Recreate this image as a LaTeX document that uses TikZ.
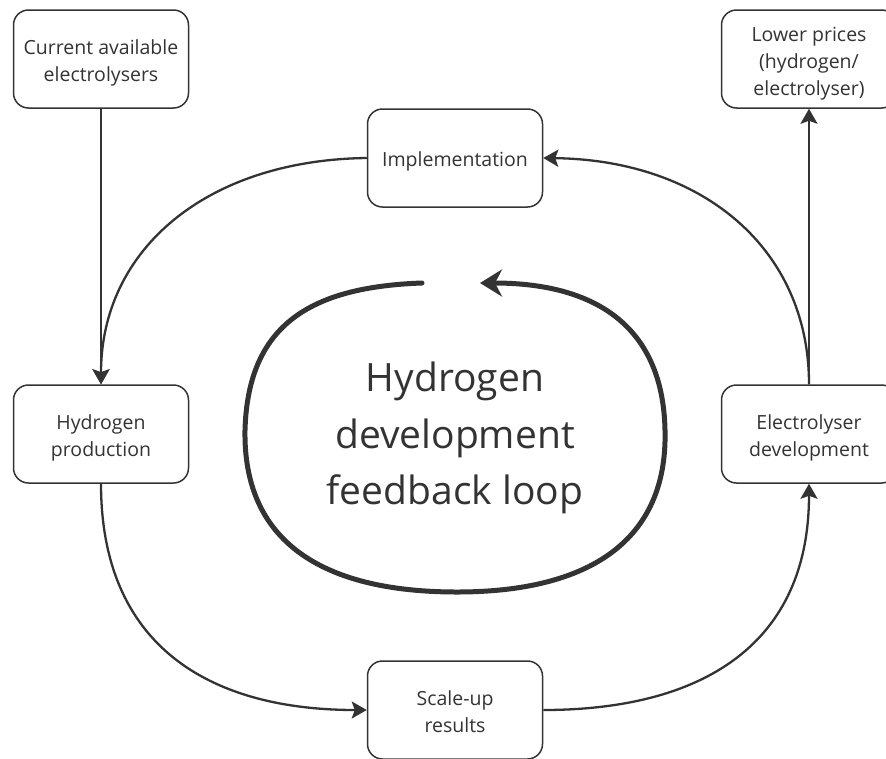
\documentclass[tikz,border=0pt]{standalone}
\usepackage{fontspec}
\setmainfont{Open Sans}
\usetikzlibrary{arrows.meta}
\definecolor{ink}{HTML}{333333}
% centred lines of text, set a little below the geometric middle
\newcommand\stagelines[2][4pt]{\raisebox{-#1}[\height][\depth]{\begin{tabular}{@{}c@{}}#2\end{tabular}}}
\tikzset{
  stage/.style={draw=ink, line width=1.5pt, rounded corners=15pt, fill=white,
    minimum width=175pt, minimum height=98pt, inner sep=0pt,
    text=ink, font=\fontsize{19.5}{27}\selectfont},
  conn/.style={draw=ink, line width=2.3pt,
    -{Stealth[length=15pt, width=17pt, inset=3pt]}},
  bigloop/.style={draw=ink, line width=5pt, line cap=round,
    -{Stealth[length=22pt, width=27pt, inset=7pt]}},
}
\begin{document}
\begin{tikzpicture}[x=1pt, y=-1pt]
  \useasboundingbox (0,0) rectangle (886,758);
  \fill[white] (0,0) rectangle (886,758);

  % stages of the cycle
  \node[stage] (curr)  at (101,59)  {\stagelines{Current available\\electrolysers}};
  \node[stage] (price) at (809,59)  {\stagelines{Lower prices\\(hydrogen/\\electrolyser)}};
  \node[stage] (impl)  at (455,158) {\stagelines[3pt]{Implementation}};
  \node[stage] (hprod) at (101,434) {\stagelines{Hydrogen\\production}};
  \node[stage] (elec)  at (809,434) {\stagelines{Electrolyser\\development}};
  \node[stage] (scale) at (455,710) {\stagelines{Scale-up\\results}};

  % straight feeds
  \draw[conn] (curr.south) -- (hprod.north);
  \draw[conn] (elec.north) -- (price.south);

  % outer cycle
  \draw[conn] (impl.west) .. controls +(-160,2) and +(0,-135) .. (hprod.north);
  \draw[conn] (hprod.south) .. controls +(0,160) and +(-160,0) .. (scale.west);
  \draw[conn] (scale.east) .. controls +(160,0) and +(0,160) .. (elec.south);
  \draw[conn] (elec.north) .. controls +(0,-135) and +(160,2) .. (impl.east);

  % central loop
  \coordinate (ls) at (422,283);
  \coordinate (le) at (480,283);
  \draw[bigloop] (ls) .. controls (310,287) and (248,325) .. (245,430)
    .. controls (243,540) and (320,592) .. (457,592)
    .. controls (590,592) and (668,540) .. (665,430)
    .. controls (663,330) and (600,283) .. (le);
  \node[text=ink, inner sep=0pt, font=\fontsize{39}{56.5}\selectfont] (title)
    at (455,437) {\stagelines[0pt]{Hydrogen\\development\\feedback loop}};
\end{tikzpicture}
\end{document}
